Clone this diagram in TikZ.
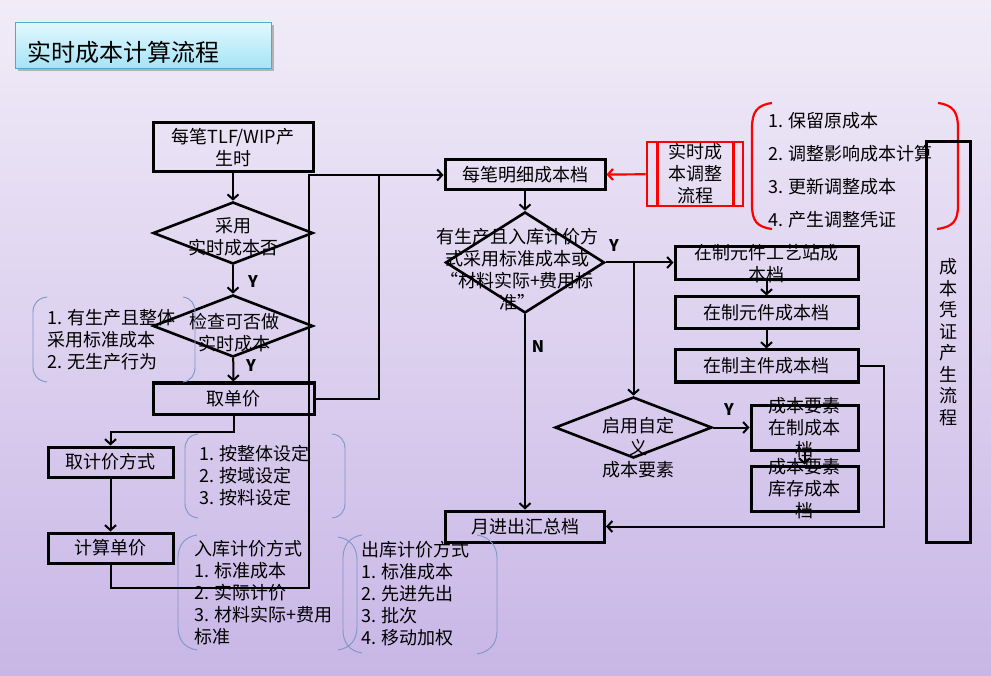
\documentclass[tikz,border=0pt]{standalone}
\usepackage{fontspec}
\setmainfont{Noto Sans CJK SC}
\usetikzlibrary{shapes.geometric,arrows.meta}

\definecolor{bgtop}{HTML}{F1ECF8}
\definecolor{bgbot}{HTML}{C8B6E6}
\definecolor{titletop}{HTML}{E2F8FD}
\definecolor{titlebot}{HTML}{A6E4F6}
\definecolor{titleline}{HTML}{4BACC6}
\definecolor{notecol}{HTML}{7C96C8}
\definecolor{adjred}{HTML}{FF0000}

\begin{document}
\begin{tikzpicture}[x=1pt,y=-1pt,>={Straight Barb[length=5pt,width=11pt]}]
    \tikzstyle{every node}=[font=\fontsize{18}{22}\selectfont, inner sep=0pt]
    \tikzstyle{box}=[draw, line width=3pt, align=center]
    \tikzstyle{decision}=[draw, diamond, line width=2.6pt]
    \tikzstyle{txt}=[align=center]
    \tikzstyle{note}=[align=left, anchor=west]
    \tikzstyle{flow}=[line width=2pt]
    \tikzstyle{yn}=[font=\fontsize{16}{18}\selectfont\bfseries]
    \tikzstyle{paren}=[notecol, line width=0.9pt]

    \useasboundingbox (0,0) rectangle (991,676);
    \shade[top color=bgtop, bottom color=bgbot] (0,0) rectangle (991,676);

    % title
    \fill[black!30] (18,25) rectangle (274,71);
    \shadedraw[top color=titletop, bottom color=titlebot, draw=titleline, line width=0.8pt]
        (15,22) rectangle (271,68);
    \node[anchor=west] (title) at (27,52) {\fontsize{24}{28}\selectfont 实时成本计算流程};

    % left column
    \node[box, minimum width=160pt, minimum height=49pt] (tlf) at (233,147.5) {每笔TLF/WIP产\\生时};
    \node[decision, minimum width=160pt, minimum height=62pt] (use) at (233,233) {};
    \node[txt] (use-t) at (233,237) {采用\\实时成本否};
    \node[decision, minimum width=160pt, minimum height=62pt] (check) at (233,326) {};
    \node[txt] (check-t) at (234,333) {检查可否做\\实时成本};
    \node[box, minimum width=161pt, minimum height=31pt] (price) at (233.5,398.5) {取单价};
    \node[box, minimum width=125pt, minimum height=30pt] (mode) at (110.5,462) {取计价方式};
    \node[box, minimum width=125pt, minimum height=30pt] (calc) at (110.5,548) {计算单价};
    \node[yn] (y1) at (253,282) {Y};
    \node[yn] (y2) at (251,366) {Y};

    % middle column
    \node[box, minimum width=160pt, minimum height=30pt] (detail) at (525,175) {每笔明细成本档};
    \node[decision, minimum width=159pt, minimum height=101pt] (std) at (525,262.5) {};
    \node[txt] (std-t) at (517,270) {有生产且入库计价方\\式采用标准成本或\\“材料实际+费用标\\准”};
    \node[box, minimum width=159pt, minimum height=31pt] (sum) at (525,526.5) {月进出汇总档};
    \node[yn] (y3) at (614,246) {Y};
    \node[yn] (n1) at (538,347) {N};

    % right column
    \node[box, minimum width=183pt, minimum height=33pt] (route) at (766.5,263.5) {};
    \node[txt] (route-t) at (766.5,264) {在制元件工艺站成\\本档};
    \node[box, minimum width=183pt, minimum height=32pt] (part) at (766.5,313) {在制元件成本档};
    \node[box, minimum width=183pt, minimum height=32pt] (main) at (766.5,366) {在制主件成本档};
    \node[decision, minimum width=157pt, minimum height=61pt] (custom) at (633.5,427.5) {};
    \node[txt] (custom-t) at (638,448) {启用自定\\义\\成本要素};
    \node[box, minimum width=107pt, minimum height=45pt] (elemwip) at (804.5,427.5) {};
    \node[txt] (elemwip-t) at (804.5,428) {成本要素\\在制成本\\档};
    \node[box, minimum width=107pt, minimum height=45pt] (elemstk) at (804.5,488.5) {};
    \node[txt] (elemstk-t) at (804.5,489) {成本要素\\库存成本\\档};
    \node[yn] (y4) at (729,410) {Y};

    % adjustment
    \node[box, draw=adjred, line width=2.6pt, minimum width=96pt, minimum height=64pt] (adjust) at (695,174)
        {实时成\\本调整\\流程};
    \draw[adjred, line width=2.6pt] ([xshift=12pt]adjust.north west) -- ([xshift=12pt]adjust.south west);
    \draw[adjred, line width=2.6pt] ([xshift=-11pt]adjust.north east) -- ([xshift=-11pt]adjust.south east);
    \node[note, font=\fontsize{18}{33}\selectfont] (steps) at (768,170)
        {1. 保留原成本\\2. 调整影响成本计算\\3. 更新调整成本\\4. 产生调整凭证};
    \draw[adjred, line width=2.2pt] (772,103) .. controls (757,105) and (752,112) .. (752,128)
        -- (752,205) .. controls (752,221) and (757,227) .. (772,229);
    \draw[adjred, line width=2.2pt] (938,103) .. controls (953,105) and (958,112) .. (958,128)
        -- (958,205) .. controls (958,221) and (953,227) .. (937,229);
    \node[box, minimum width=44pt, minimum height=400pt, font=\fontsize{18}{21.5}\selectfont] (voucher)
        at (948,342) {成\\本\\凭\\证\\产\\生\\流\\程};

    % notes
    \draw[paren] (47,297) .. controls (38,298) and (33,304) .. (33,312) -- (33,367)
        .. controls (33,375) and (38,381) .. (47,382);
    \draw[paren] (183,297) .. controls (191,298) and (195,304) .. (195,312) -- (195,367)
        .. controls (195,375) and (191,381) .. (183,382);
    \node[note] (cond) at (47,340) {1. 有生产且整体\\采用标准成本\\2. 无生产行为};

    \draw[paren] (198,434) .. controls (189,435) and (185,441) .. (185,449) -- (185,503)
        .. controls (185,511) and (189,517) .. (198,518);
    \draw[paren] (332,434) .. controls (341,435) and (345,441) .. (345,449) -- (345,503)
        .. controls (345,511) and (341,517) .. (332,518);
    \node[note] (scope) at (199,476) {1. 按整体设定\\2. 按域设定\\3. 按料设定};

    \draw[paren] (197,535) .. controls (184,537) and (178,546) .. (178,558) -- (178,627)
        .. controls (178,639) and (184,648) .. (197,650);
    \draw[paren] (338,537) .. controls (351,539) and (357,548) .. (357,560) -- (357,627)
        .. controls (357,639) and (351,648) .. (338,650);
    \node[note] (inmode) at (194,593) {入库计价方式\\1. 标准成本\\2. 实际计价\\3. 材料实际+费用\\标准};

    \draw[paren] (362,535) .. controls (349,537) and (343,546) .. (343,558) -- (343,630)
        .. controls (343,642) and (349,651) .. (362,653);
    \draw[paren] (477,535) .. controls (490,537) and (497,546) .. (497,558) -- (497,631)
        .. controls (497,643) and (490,652) .. (477,654);
    \node[note] (outmode) at (361,594) {出库计价方式\\1. 标准成本\\2. 先进先出\\3. 批次\\4. 移动加权};

    % connectors
    \coordinate (loopa) at (309,588);
    \coordinate (joina) at (379,175);
    \draw[flow,->] (tlf) -- (use);
    \draw[flow,->] (use) -- (check);
    \draw[flow,->] (check) -- (price);
    \draw[flow,->] (price.south) -- ++(0,16) -| (mode.north);
    \draw[flow,->] (mode) -- (calc);
    \draw[flow,->] (calc.south) |- (loopa) |- (detail.west);
    \draw[flow] (price.east) -| (joina);
    \draw[adjred, line width=2.2pt, ->] (adjust) -- (detail);
    \draw[flow,->] (detail) -- (std);
    \draw[flow,->] (std.east) -- (std.east -| route.west);
    \draw[flow,->] (std.east -| custom.north) -- (custom.north);
    \draw[flow,->] (std.south) -- (sum.north);
    \draw[flow,->] (route) -- (part);
    \draw[flow,->] (part) -- (main);
    \draw[flow,->] (main.east) -- ++(24,0) |- (sum.east);
    \draw[flow,->] (custom) -- (elemwip);
    \draw[flow,->] (elemwip) -- (elemstk);
\end{tikzpicture}
\end{document}
